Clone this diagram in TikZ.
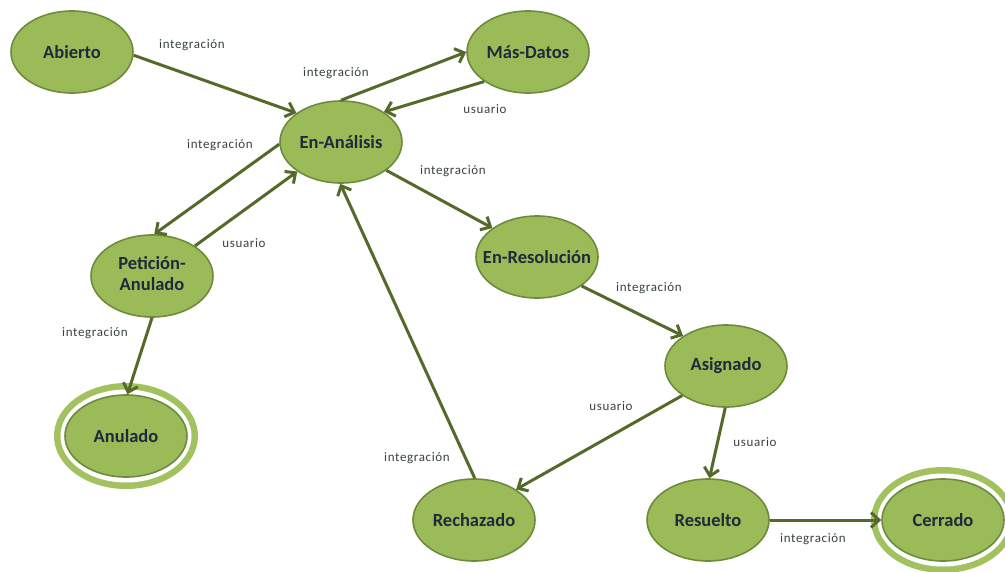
\documentclass[tikz,border=0pt]{standalone}
\usepackage{fontspec}
\setmainfont{Carlito}
\newfontfamily\lblfont[LetterSpace=5]{Carlito}
\usetikzlibrary{shapes.geometric,arrows.meta}
\definecolor{stfill}{HTML}{9BBB59}
\definecolor{stborder}{HTML}{6E8B3D}
\definecolor{ringfill}{HTML}{A2C260}
\definecolor{arrowc}{HTML}{546A2A}
\definecolor{sttext}{HTML}{1F2A3C}
\definecolor{lbltext}{HTML}{37433A}
% zero-width box so the ellipse size is set only by the minimum sizes
\newcommand{\nodetext}[1]{\makebox[0pt]{#1}}

\begin{document}
\begin{tikzpicture}[x=1pt,y=-1pt,
  state/.style={ellipse, draw=stborder, line width=1.6pt, fill=stfill,
    minimum width=122pt, minimum height=82pt, inner sep=0pt,
    text=sttext, font=\fontsize{18.5}{22}\selectfont\bfseries},
  ring/.style={ellipse, fill=ringfill, minimum width=144pt, minimum height=106pt, inner sep=0pt},
  gap/.style={ellipse, fill=white, minimum width=131pt, minimum height=93pt, inner sep=0pt},
  trans/.style={draw=arrowc, line width=3pt, -{Straight Barb[length=8pt,width=15pt]}},
  lbl/.style={text=lbltext, font=\lblfont\fontsize{13}{15}\selectfont, inner sep=0pt}
]
\useasboundingbox (0,0) rectangle (1005,571);

% final states: outer ring and white gap
\node[ring] (Nring) at (126,436) {};
\node[gap]  (Ngap)  at (126,436) {};
\node[ring] (Cring) at (943,520) {};
\node[gap]  (Cgap)  at (943,520) {};

% states
\node[state] (A) at (72,52)   {\nodetext{Abierto}};
\node[state] (M) at (528,52)  {\nodetext{Más-Datos}};
\node[state] (E) at (341,142) {\nodetext{En-Análisis}};
\node[state] (P) at (152,276) {\nodetext{\begin{tabular}{@{}c@{}}Petición-\\[-1pt]Anulado\end{tabular}}};
\node[state] (N) at (126,436) {\nodetext{Anulado}};
\node[state] (R) at (537,257) {\nodetext{En-Resolución}};
\node[state] (S) at (726,366) {\nodetext{Asignado}};
\node[state] (Z) at (474,520) {\nodetext{Rechazado}};
\node[state] (U) at (708,520) {\nodetext{Resuelto}};
\node[state] (C) at (943,520) {\nodetext{Cerrado}};

% transitions
\draw[trans] (A.-3)  -- (E.147);
\draw[trans] (E.90)  -- (M.180);
\draw[trans] (M.214) -- (E.35);
\draw[trans] (E.182) -- (P.87);
\draw[trans] (P.35)  -- (E.214);
\draw[trans] (E.-32) -- (R.147);
\draw[trans] (R.-33) -- (S.145);
\draw[trans] (S.214) -- (Z.36);
\draw[trans] (S.-91) -- (U.88);
\draw[trans] (Z.89)  -- (E.-91);
\draw[trans] (U.0)   -- (C.180);
\draw[trans] (P.-90) -- (N.88);

% transition labels
\node[lbl] (l1)  at (192,45)  {integración};
\node[lbl] (l2)  at (336,73)  {integración};
\node[lbl] (l3)  at (485,109) {usuario};
\node[lbl] (l4)  at (220,145) {integración};
\node[lbl] (l5)  at (244,243) {usuario};
\node[lbl] (l6)  at (453,171) {integración};
\node[lbl] (l7)  at (649,288) {integración};
\node[lbl] (l8)  at (611,406) {usuario};
\node[lbl] (l9)  at (755,442) {usuario};
\node[lbl] (l10) at (417,458) {integración};
\node[lbl] (l11) at (813,539) {integración};
\node[lbl] (l12) at (95,333)  {integración};
\end{tikzpicture}
\end{document}
